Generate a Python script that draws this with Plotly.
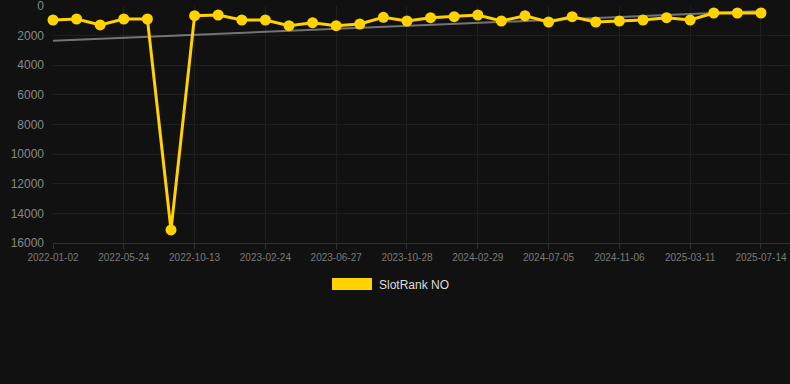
import numpy as np
import plotly.graph_objects as go

dates = [
    "2022-01-02", "2022-02-18", "2022-04-06", "2022-05-24", "2022-07-10", "2022-08-26",
    "2022-10-13", "2022-11-27", "2023-01-10", "2023-02-24", "2023-04-06", "2023-05-17",
    "2023-06-27", "2023-08-07", "2023-09-17", "2023-10-28", "2023-12-08", "2024-01-18",
    "2024-02-29", "2024-04-11", "2024-05-23", "2024-07-05", "2024-08-16", "2024-09-26",
    "2024-11-06", "2024-12-18", "2025-01-28", "2025-03-11", "2025-04-22", "2025-06-02",
    "2025-07-14",
]
rank = [
    945, 877, 1280, 877, 877, 15120,
    655, 608, 945, 945, 1330, 1125,
    1330, 1215, 765, 1013, 787, 720,
    608, 1013, 653, 1080, 720, 1080,
    1013, 945, 787, 945, 472, 472,
    472,
]
series_name = "SlotRank NO"
tick_dates = dates[::3]
y_ticks = [0, 2000, 4000, 6000, 8000, 10000, 12000, 14000, 16000]

# linear trend (least squares over point index)
idx = np.arange(len(rank))
slope, intercept = np.polyfit(idx, rank, 1)
trend_x = [dates[0], dates[-1]]
trend_y = [intercept + slope * idx[0], intercept + slope * idx[-1]]

GOLD = "#FFD200"
BG = "#111111"

fig = go.Figure()
fig.add_trace(go.Scatter(
    x=trend_x, y=trend_y, mode="lines",
    line=dict(color="rgba(150,150,150,0.75)", width=2),
    hoverinfo="skip", showlegend=False, cliponaxis=False,
))
fig.add_trace(go.Scatter(
    x=dates, y=rank, mode="lines+markers", name=series_name,
    line=dict(color=GOLD, width=3),
    marker=dict(color=GOLD, size=11),
    showlegend=False, cliponaxis=False,
))

plot_l, plot_r, plot_t, plot_b = 53, 790, 6, 243
pw = plot_r - plot_l
ph = plot_b - plot_t

def px_x(p):
    return (p - plot_l) / pw

def px_y(p):
    return (plot_b - p) / ph

fig.update_layout(
    width=790, height=384,
    margin=dict(l=plot_l, r=790 - plot_r, t=plot_t, b=384 - plot_b),
    paper_bgcolor=BG, plot_bgcolor=BG,
    font=dict(family="Liberation Sans, Arial, sans-serif", color="#888888"),
    showlegend=False,
    xaxis=dict(
        type="category", categoryorder="array", categoryarray=dates,
        range=[0, 31.23],
        tickmode="array", tickvals=tick_dates, ticktext=tick_dates,
        tickfont=dict(size=10, color="#7a7a7a"),
        showgrid=True, gridcolor="#1f1f1f", gridwidth=1,
        ticks="outside", ticklen=5, tickcolor="#333333",
        showline=True, linecolor="#333333", linewidth=1,
        zeroline=False, ticklabeloverflow="allow",
    ),
    yaxis=dict(
        range=[16000.5, -0.5],
        tickmode="array", tickvals=y_ticks, ticktext=[str(v) for v in y_ticks],
        tickfont=dict(size=12, color="#888888"),
        showgrid=True, gridcolor="#1f1f1f", gridwidth=1,
        ticks="", ticklabelstandoff=8,
        zeroline=False, showline=False, ticklabeloverflow="allow",
    ),
    shapes=[dict(
        type="rect", xref="paper", yref="paper",
        x0=px_x(332), x1=px_x(372), y0=px_y(290), y1=px_y(278),
        fillcolor=GOLD, line=dict(width=0),
    )],
    annotations=[dict(
        xref="paper", yref="paper", x=px_x(377), y=px_y(284.5),
        xanchor="left", yanchor="middle", showarrow=False,
        text=series_name, font=dict(size=12, color="#dddddd"),
    )],
)

fig.write_html("out.html")
